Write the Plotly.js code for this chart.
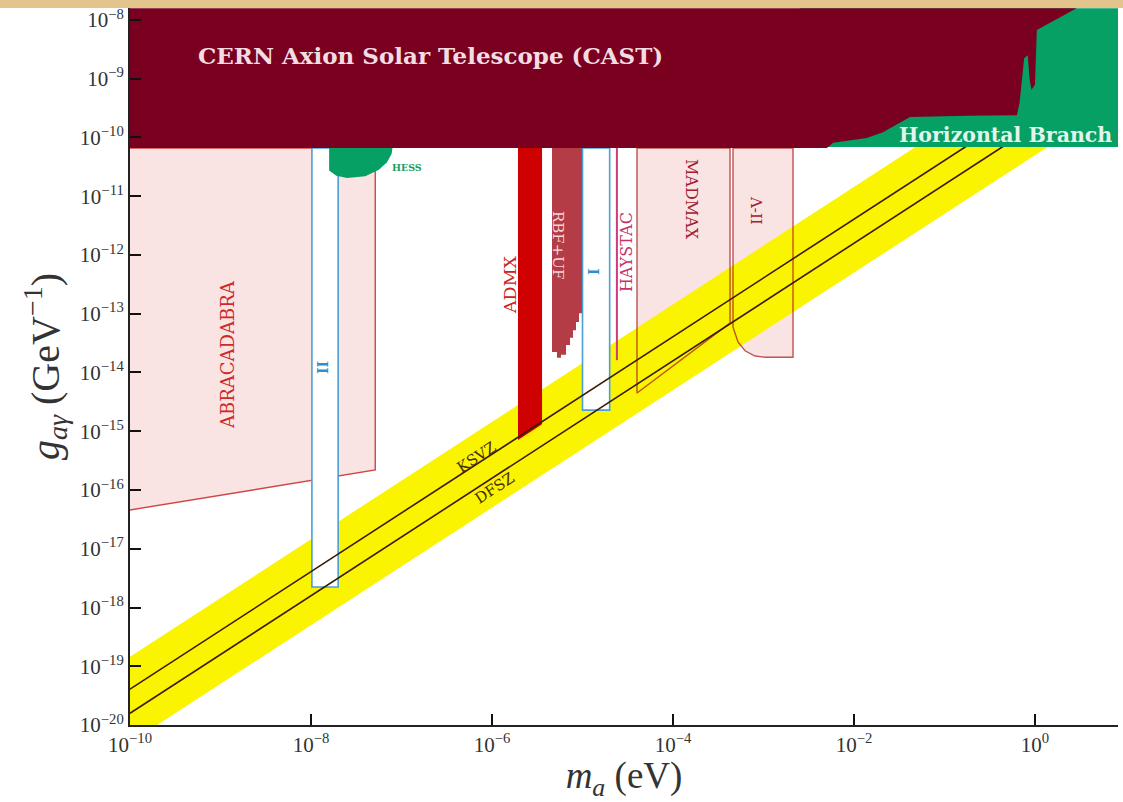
<!DOCTYPE html>
<html>
<head>
<meta charset="utf-8">
<script src="https://cdn.plot.ly/plotly-3.0.1.min.js"></script>
<style>html,body{margin:0;padding:0;background:#fff;}#plot{width:1123px;height:802px;}</style>
</head>
<body>
<div id="plot"></div>
<script>
// ---- data (log10 of mass in eV, log10 of coupling in GeV^-1) ----
const castLogM = [-10, -2.3, -2.23, -1.86, -1.68, -1.49, -1.38, -0.75, -0.20, -0.17, -0.12, -0.08, -0.06, -0.04, 0.0, 0.02, 0.46, -10];
const castLogG = [-10.18, -10.18, -10.09, -10.01, -9.91, -9.75, -9.65, -9.63, -9.62, -9.40, -8.65, -8.60, -9.00, -9.19, -9.10, -8.17, -7.80, -7.80];

const hbLogM = [-2.6, 1, 1, -2.6];
const hbLogG = [-10.16, -10.16, -7.8, -7.8];

const hessLogM = [-7.80, -7.80, -7.72, -7.60, -7.40, -7.25, -7.16, -7.11, -7.10];
const hessLogG = [-10.18, -10.56, -10.65, -10.69, -10.66, -10.55, -10.42, -10.28, -10.18];

const abraLogM = [-10, -7.29, -7.29, -10];
const abraLogG = [-10.18, -10.18, -15.66, -16.34];

const dmr2LogM = [-7.99, -7.70, -7.70, -7.99, -7.99];
const dmr2LogG = [-10.18, -10.18, -17.65, -17.65, -10.18];

const dmr1LogM = [-5.00, -4.70, -4.70, -5.00, -5.00];
const dmr1LogG = [-10.18, -10.18, -14.64, -14.64, -10.18];

const admxLogM = [-5.713, -5.447, -5.447, -5.713];
const admxLogG = [-10.18, -10.18, -14.88, -15.15];

const rbfLogM = [-5.337, -5.006, -5.006, -5.039, -5.039, -5.072, -5.072, -5.105, -5.105, -5.138, -5.138, -5.182, -5.182, -5.238, -5.238, -5.282, -5.282, -5.337];
const rbfLogG = [-10.18, -10.18, -12.99, -12.99, -13.14, -13.14, -13.28, -13.28, -13.41, -13.41, -13.53, -13.53, -13.70, -13.70, -13.75, -13.75, -13.65, -13.65];

const haystacLogM = [-4.62, -4.62];
const haystacLogG = [-10.18, -13.79];

const madmaxLogM = [-4.398, -4.398, -3.370, -3.370, -4.398];
const madmaxLogG = [-10.18, -14.35, -13.16, -10.18, -10.18];

const a2LogM = [-3.337, -3.337, -3.282, -3.204, -3.094, -2.983, -2.674, -2.674, -3.337];
const a2LogG = [-10.18, -13.23, -13.48, -13.63, -13.72, -13.74, -13.74, -10.18, -10.18];

const bandLogM = [-10, 1, 1, -10];
const bandLogG = [-18.84, -7.84, -9.30, -20.30];

const ksvzLogM = [-10, 1];
const ksvzLogG = [-19.39, -8.39];
const dfszLogM = [-10, 1];
const dfszLogG = [-19.80, -8.80];

const xTickExp = [-10, -8, -6, -4, -2, 0];
const yTickExp = [-20, -19, -18, -17, -16, -15, -14, -13, -12, -11, -10, -9, -8];

// ---- helpers ----
const P = a => a.map(v => Math.pow(10, v));
const sup = e => '10<sup>' + (e < 0 ? '−' + (-e) : e) + '</sup>';

const PINK = '#fae3e3';
function fillTrace(m, g, color) {
  return {x: P(m), y: P(g), type: 'scatter', mode: 'lines', fill: 'toself', fillcolor: color,
          line: {width: 0, color: color}, hoverinfo: 'skip', showlegend: false};
}
function lineTrace(m, g, color, w) {
  return {x: P(m), y: P(g), type: 'scatter', mode: 'lines', line: {width: w, color: color},
          hoverinfo: 'skip', showlegend: false};
}
function boxTrace(m, g, lc) {
  return {x: P(m), y: P(g), type: 'scatter', mode: 'lines', fill: 'toself', fillcolor: '#ffffff',
          line: {width: 1.6, color: lc}, hoverinfo: 'skip', showlegend: false};
}

const traces = [
  fillTrace(abraLogM, abraLogG, PINK),
  fillTrace(madmaxLogM, madmaxLogG, PINK),
  fillTrace(a2LogM, a2LogG, PINK),
  fillTrace(bandLogM, bandLogG, '#fbf400'),
  lineTrace(abraLogM, abraLogG, 'rgba(205,50,50,0.9)', 1.4),
  lineTrace(madmaxLogM, madmaxLogG, 'rgba(170,30,30,0.75)', 1.4),
  lineTrace(a2LogM, a2LogG, 'rgba(170,30,30,0.75)', 1.4),
  boxTrace(dmr2LogM, dmr2LogG, '#4a9fd6'),
  boxTrace(dmr1LogM, dmr1LogG, '#4a9fd6'),
  fillTrace(rbfLogM, rbfLogG, '#b43c46'),
  lineTrace(haystacLogM, haystacLogG, '#cc3c78', 2),
  fillTrace(admxLogM, admxLogG, '#cf0000'),
  lineTrace(ksvzLogM, ksvzLogG, '#3a1a08', 1.6),
  lineTrace(dfszLogM, dfszLogG, '#3a1a08', 1.6),
  fillTrace(hbLogM, hbLogG, '#06a064'),
  fillTrace(castLogM, castLogG, '#7a0020'),
  fillTrace(hessLogM, hessLogG, '#06a064')
];

const serif = 'DejaVu Serif';
const ann = (x, y, text, opts) => Object.assign({x: x, y: y, xref: 'x', yref: 'y', text: text, showarrow: false,
  font: {family: serif, size: 14, color: '#000'}}, opts || {});

const annotations = [
  ann(-6.685, -8.596, '<b>CERN Axion Solar Telescope (CAST)</b>', {font: {family: serif, size: 23, color: '#f3dde2'}}),
  ann(-0.331, -9.957, '<b>Horizontal Branch</b>', {font: {family: serif, size: 20.5, color: '#e2f5ea'}}),
  ann(-6.939, -10.519, '<b>HESS</b>', {font: {family: serif, size: 9.5, color: '#18a060'}}),
  ann(-8.917, -13.702, 'ABRACADABRA', {textangle: -90, font: {family: serif, size: 18, color: '#d02828'}}),
  ann(-7.867, -13.923, '<b>II</b>', {textangle: -90, font: {family: serif, size: 14, color: '#2e8fd0'}}),
  ann(-4.873, -12.289, '<b>I</b>', {textangle: -90, font: {family: serif, size: 14, color: '#2e8fd0'}}),
  ann(-5.801, -12.511, 'ADMX', {textangle: -90, font: {family: serif, size: 17.5, color: '#d02020'}}),
  ann(-5.271, -11.83, 'RBF+UF', {textangle: 90, font: {family: serif, size: 15, color: '#f3d6d6'}}),
  ann(-4.519, -11.95, 'HAYSTAC', {textangle: -90, font: {family: serif, size: 16, color: '#c8306a'}}),
  ann(-3.790, -11.047, 'MADMAX', {textangle: 90, font: {family: serif, size: 16, color: '#a02030'}}),
  ann(-3.083, -11.234, 'Λ-II', {textangle: 90, font: {family: serif, size: 15, color: '#a02030'}}),
  ann(-6.166, -15.438, 'KSVZ', {textangle: -33, font: {family: serif, size: 15, color: '#4a2c08'}}),
  ann(-5.967, -15.966, 'DFSZ', {textangle: -33, font: {family: serif, size: 15, color: '#4a2c08'}})
];

const pad = '\u00A0'.repeat(14);

const layout = {
  width: 1123, height: 802,
  margin: {l: 130, r: 5, t: 8, b: 77},
  paper_bgcolor: '#ffffff', plot_bgcolor: '#ffffff',
  showlegend: false, hovermode: false,
  xaxis: {
    type: 'log', range: [-10, 0.917], showgrid: false, zeroline: false,
    tickvals: P(xTickExp), ticktext: xTickExp.map(sup),
    ticks: 'inside', ticklen: 11, tickwidth: 2, tickcolor: '#111',
    showline: true, linecolor: '#222', linewidth: 2,
    tickfont: {family: 'Liberation Serif', size: 21, color: '#333'},
    title: {text: '<i>m<sub>a</sub></i> (eV)', font: {family: 'Liberation Serif', size: 37, color: '#333'}, standoff: 9}
  },
  yaxis: {
    type: 'log', range: [-20, -7.796], showgrid: false, zeroline: false,
    tickvals: P(yTickExp), ticktext: yTickExp.map(sup),
    ticks: 'inside', ticklen: 11, tickwidth: 2, tickcolor: '#111',
    showline: true, linecolor: '#222', linewidth: 2,
    tickfont: {family: 'Liberation Serif', size: 21, color: '#333'},
    title: {text: pad + '<i>g<sub>aγ</sub></i> (GeV<sup>−1</sup>)', font: {family: 'Liberation Serif', size: 40, color: '#333'}, standoff: 8}
  },
  annotations: annotations,
  shapes: [
    {type: 'rect', xref: 'paper', yref: 'paper', x0: -0.14, x1: 1.01, y0: 1.0, y1: 1.02,
     fillcolor: '#e2c48c', line: {width: 0}, layer: 'above'}
  ]
};

Plotly.newPlot('plot', traces, layout, {displayModeBar: false, staticPlot: true});
</script>
</body>
</html>
